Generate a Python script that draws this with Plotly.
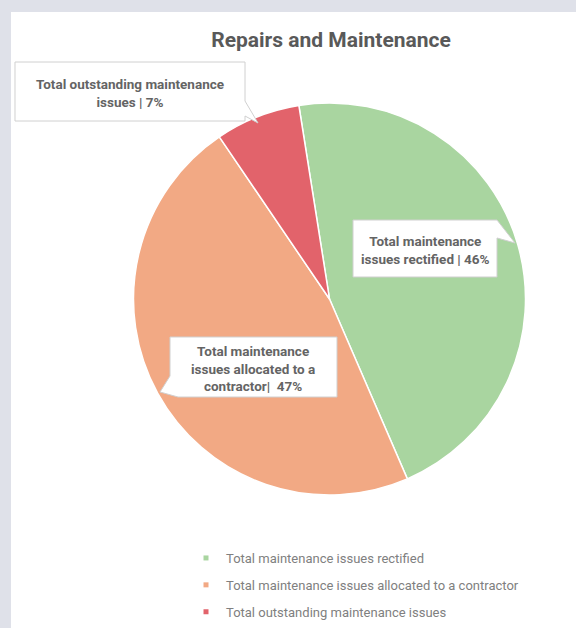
import plotly.graph_objects as go

# ---- data ----
categories = [
    "Total maintenance issues rectified",
    "Total maintenance issues allocated to a contractor",
    "Total outstanding maintenance issues",
]
values = [46, 47, 7]
callout_texts = [
    "Total maintenance<br>issues rectified | 46%",
    "Total maintenance<br>issues allocated to a<br>contractor|  47%",
    "Total outstanding maintenance<br>issues | 7%",
]
colors = ["#a9d5a0", "#f2a984", "#e2636b"]

W, H = 576, 628


def px(x):
    return x / W


def py(y):
    return 1 - y / H


def path(points):
    return "M " + " L ".join(f"{px(x):.5f},{py(y):.5f}" for x, y in points) + " Z"


fig = go.Figure()

fig.add_trace(go.Pie(
    labels=categories,
    values=values,
    sort=False,
    direction="clockwise",
    rotation=-9,
    marker=dict(colors=colors, line=dict(color="white", width=1.5)),
    textinfo="none",
    hoverinfo="label+percent",
    showlegend=False,
    domain=dict(x=[px(133.5), px(525.5)], y=[py(495), py(103)]),
))

# legend entries (small square markers)
for i, (name, c) in enumerate(zip(categories, colors)):
    fig.add_trace(go.Scatter(
        x=[None], y=[None], mode="markers", name=name,
        marker=dict(symbol="square", size=5, color=c),
        legendgroup=f"g{i}", hoverinfo="skip",
    ))

shapes = [
    # white panel
    dict(type="rect", xref="paper", yref="paper", x0=px(11), x1=1.0, y0=0, y1=py(12),
         fillcolor="white", line=dict(width=0), layer="below"),
]

bubble_line = dict(color="#d0d0d0", width=1)
# callout bubbles (box + tail)
bubbles = [
    [(353, 220), (497, 220), (515, 243), (497, 238), (497, 277), (353, 277)],
    [(170, 337), (337, 337), (337, 397), (178, 397), (160, 392), (170, 376)],
    [(15, 62), (245, 62), (245, 101), (258, 123), (245, 116), (245, 121), (15, 121)],
]
for pts in bubbles:
    shapes.append(dict(type="path", xref="paper", yref="paper", path=path(pts),
                       fillcolor="white", line=bubble_line, layer="above"))

annotations = []
centers = [(425, 250), (253, 368.5), (130, 92.5)]
for txt, (cx, cy) in zip(callout_texts, centers):
    annotations.append(dict(
        x=px(cx), y=py(cy), xref="paper", yref="paper", text=f"<b>{txt}</b>",
        showarrow=False, align="center", xanchor="center", yanchor="middle",
        font=dict(family="Roboto", size=13.5, color="#646464"),
    ))

fig.update_layout(
    width=W, height=H,
    margin=dict(l=0, r=0, t=0, b=0),
    paper_bgcolor="#dfe1e9",
    plot_bgcolor="rgba(0,0,0,0)",
    title=dict(text="<b>Repairs and Maintenance</b>", x=px(331), xanchor="center",
               y=py(40), yanchor="middle",
               font=dict(family="Roboto", size=21, color="#595959")),
    xaxis=dict(visible=False),
    yaxis=dict(visible=False),
    shapes=shapes,
    annotations=annotations,
    legend=dict(
        x=px(186), y=py(543), xanchor="left", yanchor="top",
        orientation="v", bgcolor="rgba(0,0,0,0)",
        font=dict(family="Roboto", size=13, color="#808080"),
        tracegroupgap=7, itemwidth=30,
    ),
    showlegend=True,
)

fig.write_html(
    "out.html",
    config={"displayModeBar": False},
    post_script="document.body.style.margin='0px';document.body.style.overflow='hidden';",
)
